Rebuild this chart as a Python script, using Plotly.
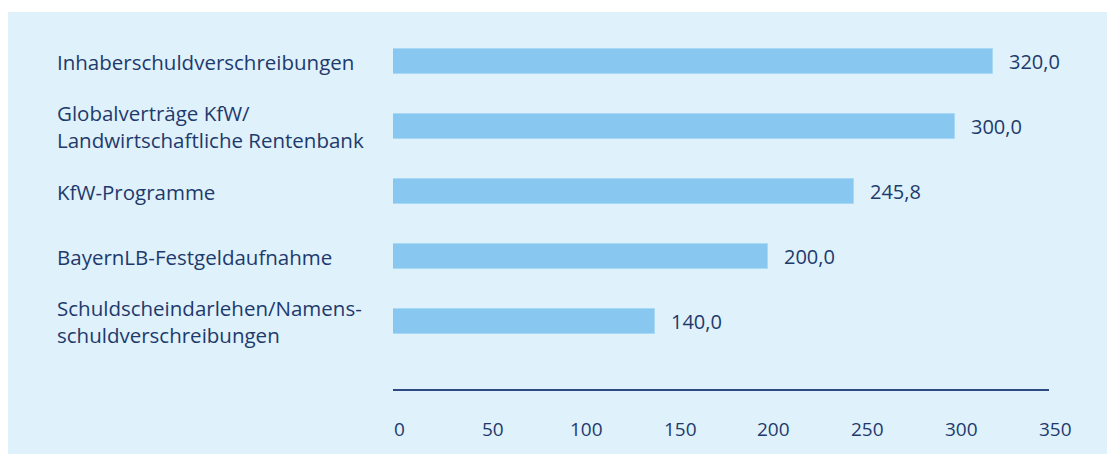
import plotly.graph_objects as go

categories = [
    "Inhaberschuldverschreibungen",
    "Globalverträge KfW/<br>Landwirtschaftliche Rentenbank",
    "KfW-Programme",
    "BayernLB-Festgeldaufnahme",
    "Schuldscheindarlehen/Namens-<br>schuldverschreibungen",
]
values = [320.0, 300.0, 245.8, 200.0, 140.0]
tick_values = [0, 50, 100, 150, 200, 250, 300, 350]
tick_labels = ["0", "50", "100", "150", "200", "250", "300", "350"]

TEXT = "#1e3a6d"
BAR = "#88c8f0"
PANEL = "#dff1fa"
FONT = "Open Sans"

fig = go.Figure()
fig.add_trace(go.Bar(
    x=values, y=list(range(len(categories))), orientation="h",
    marker=dict(color=BAR, line=dict(color="#a9d8f5", width=1)),
    width=0.375, hoverinfo="skip",
))

ann = []
for i, c in enumerate(categories):
    ann.append(dict(x=-0.5157, xref="paper", y=i, yref="y", text=c, showarrow=False,
                    xanchor="left", yanchor="middle", align="left",
                    font=dict(family=FONT, size=20.5, color=TEXT)))
for i, v in enumerate(values):
    ann.append(dict(x=v, xref="x", y=i, yref="y", text=f"{v:.1f}".replace(".", ","),
                    showarrow=False, xanchor="left", yanchor="middle", xshift=14,
                    font=dict(family=FONT, size=20, color=TEXT)))
for tv, tl in zip(tick_values, tick_labels):
    ann.append(dict(x=tv, xref="x", y=-0.1111, yref="paper", text=tl, showarrow=False,
                    xanchor="center", yanchor="middle", xshift=6,
                    font=dict(family=FONT, size=19, color=TEXT)))

fig.update_layout(
    width=1115, height=454,
    margin=dict(l=385, r=74, t=21, b=73),
    paper_bgcolor="white", plot_bgcolor="rgba(0,0,0,0)",
    showlegend=False, bargap=0,
    annotations=ann,
    shapes=[dict(type="rect", xref="paper", yref="paper", x0=-0.587, x1=1.2,
                 y0=-0.3, y1=1.0472, fillcolor=PANEL, line=dict(width=0), layer="below")],
    xaxis=dict(range=[0, 350], showgrid=False, zeroline=False, showticklabels=False,
               showline=True, linecolor="#2c4a80", linewidth=2, ticks=""),
    yaxis=dict(range=[5.038, -0.5], showgrid=False, zeroline=False, showticklabels=False,
               showline=False, ticks=""),
)

fig.write_html("out.html")
